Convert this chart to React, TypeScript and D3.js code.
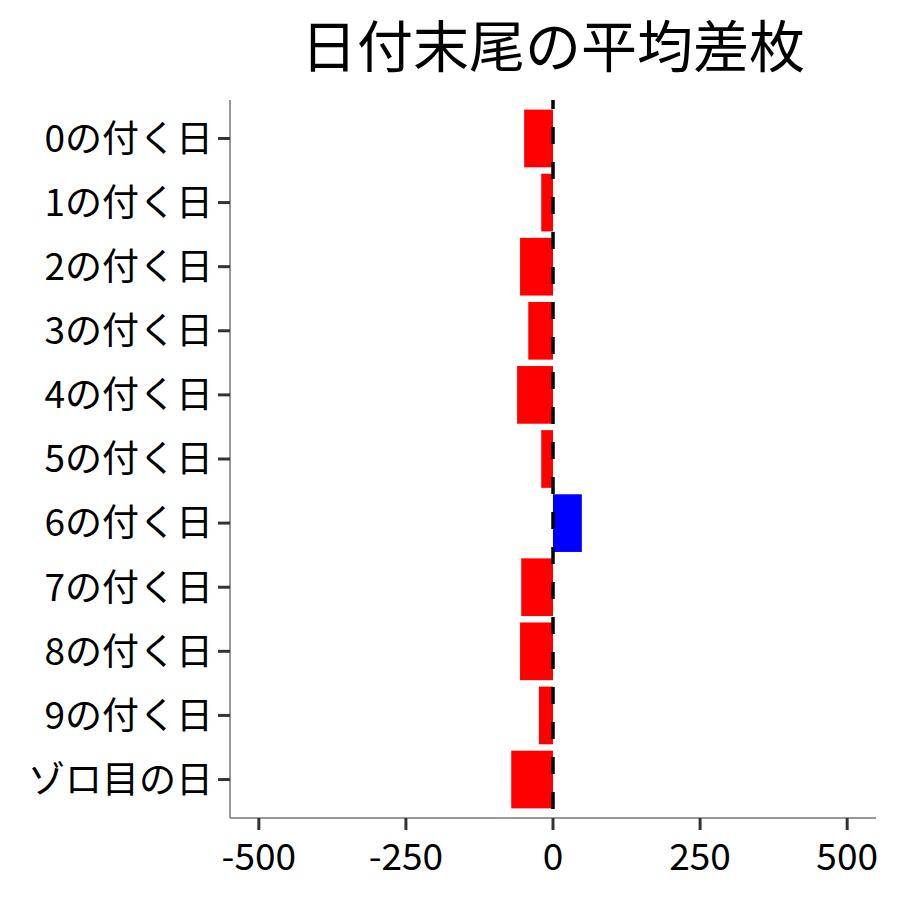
import React from "react";
import * as d3 from "d3";

const categories = ["0の付く日","1の付く日","2の付く日","3の付く日","4の付く日","5の付く日","6の付く日","7の付く日","8の付く日","9の付く日","ゾロ目の日"];
const values = [-49, -20, -56, -42, -61, -20, 49, -54, -56, -24, -71];
const xTicks = [-500, -250, 0, 250, 500];
const title = "日付末尾の平均差枚";

export default function App() {
  const W = 900, H = 900;
  const left = 230, right = 876, top = 100, bottom = 818;
  const font = "'Noto Sans CJK JP', 'Noto Sans', sans-serif";
  const x = d3.scaleLinear().domain([-549, 549]).range([left, right]);
  const n = categories.length;
  const step = (bottom - top) / (n - 1 + 1.2);
  const yc = (i: number) => top + step * (0.6 + i);
  const bh = step * 0.9;
  return (
    <svg width={W} height={H} style={{ position: "absolute", left: 0, top: 0 }}>
      <rect width={W} height={H} fill="#fff" />
      <text x={(left + right) / 2} y={67} textAnchor="middle" fontSize={56} fontFamily={font} fill="#000">{title}</text>
      {values.map((v, i) => (
        <rect key={i} x={Math.min(x(0), x(v))} y={yc(i) - bh / 2} width={Math.abs(x(v) - x(0))} height={bh}
          fill={v >= 0 ? "#0000FF" : "#FF0000"} />
      ))}
      <line x1={x(0)} x2={x(0)} y1={top} y2={bottom} stroke="#000" strokeWidth={3.5} strokeDasharray="17 18" strokeDashoffset={8} />
      <line x1={left} x2={left} y1={top} y2={bottom} stroke="#777" strokeWidth={1.5} />
      <line x1={left} x2={right} y1={bottom} y2={bottom} stroke="#777" strokeWidth={1.5} />
      {categories.map((c, i) => (
        <g key={c}>
          <line x1={left - 12} x2={left} y1={yc(i)} y2={yc(i)} stroke="#333" strokeWidth={3} />
          <text x={left - 17} y={yc(i)} dy="0.36em" textAnchor="end" fontSize={37} fontFamily={font} fill="#000">{c}</text>
        </g>
      ))}
      {xTicks.map((t) => (
        <g key={t}>
          <line x1={x(t)} x2={x(t)} y1={bottom} y2={bottom + 12} stroke="#333" strokeWidth={3} />
          <text x={x(t)} y={bottom + 52} textAnchor="middle" fontSize={37} fontFamily={font} fill="#000">{t}</text>
        </g>
      ))}
    </svg>
  );
}
